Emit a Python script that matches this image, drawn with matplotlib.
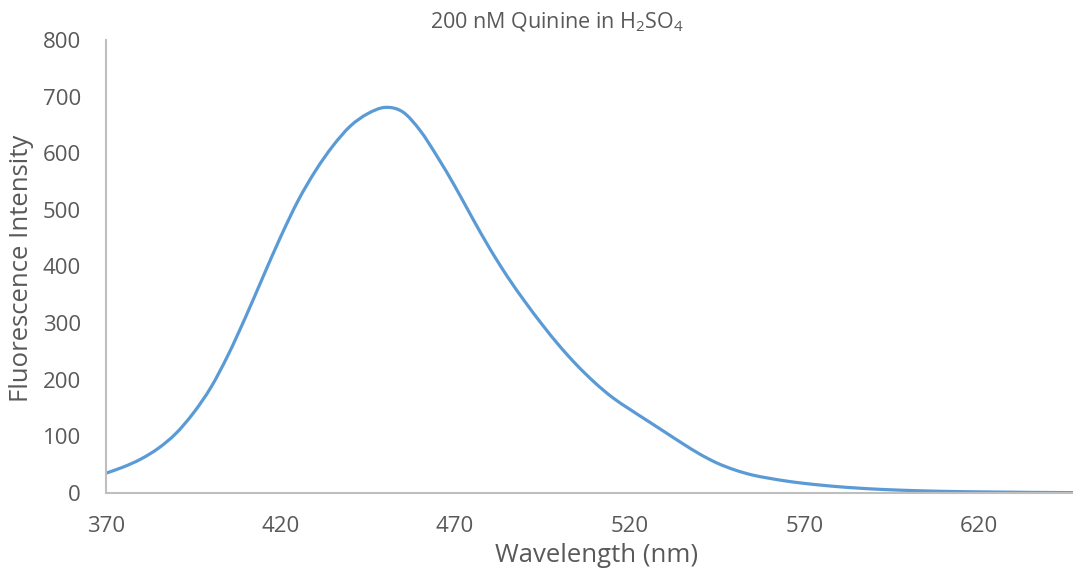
import matplotlib
matplotlib.use("Agg")
import matplotlib.pyplot as plt
from matplotlib.path import Path
from matplotlib.patches import PathPatch

# Data
wavelength = [370, 375, 380, 385, 390, 395, 400, 405, 410, 415, 420, 425, 430, 435,
              440, 445, 450, 455, 460, 465, 470, 475, 480, 485, 490, 495, 500, 505,
              510, 515, 520, 525, 530, 535, 540, 545, 550, 555, 560, 565, 570, 575,
              580, 585, 590, 595, 600, 605, 610, 615, 620, 625, 630, 635, 640, 645, 650]
intensity = [35, 46, 60, 79, 105, 141, 186, 244, 311, 382, 452, 516, 569, 613,
             648, 670, 681, 673, 640, 593, 541, 485, 431, 382, 338, 297, 259, 225,
             195, 169, 148, 128, 108, 88, 69, 53, 41, 32, 26, 21, 17, 13.8,
             11, 8.8, 7, 5.6, 4.5, 3.6, 2.9, 2.4, 2.0, 1.7, 1.4, 1.1, 0.9, 0.7, 0.6]
x_ticks = [370, 420, 470, 520, 570, 620]
y_ticks = [0, 100, 200, 300, 400, 500, 600, 700, 800]

title_text = "200 nM Quinine in H$\\mathregular{_2}$SO$\\mathregular{_4}$"
x_label = "Wavelength (nm)"
y_label = "Fluorescence Intensity"

plt.rcParams['font.family'] = ['Open Sans', 'DejaVu Sans']
text_color = '#595959'
spine_color = '#BFBFBF'
line_color = '#5B9BD5'

W, H = 1073, 573
fig = plt.figure(figsize=(W / 100, H / 100), dpi=100)
ax = fig.add_axes([106 / W, 1 - 493 / H, (W - 106) / W, (493 - 40) / H])


def smooth_path(xs, ys):
    """Excel-style smoothed line: cubic Bezier segments through the data points."""
    n = len(xs)
    verts = [(xs[0], ys[0])]
    codes = [Path.MOVETO]
    for i in range(n - 1):
        x0, y0 = (xs[i - 1], ys[i - 1]) if i > 0 else (xs[i], ys[i])
        x1, y1 = xs[i], ys[i]
        x2, y2 = xs[i + 1], ys[i + 1]
        x3, y3 = (xs[i + 2], ys[i + 2]) if i + 2 < n else (x2, y2)
        c1 = (x1 + (x2 - x0) / 6.0, y1 + (y2 - y0) / 6.0)
        c2 = (x2 - (x3 - x1) / 6.0, y2 - (y3 - y1) / 6.0)
        verts += [c1, c2, (x2, y2)]
        codes += [Path.CURVE4] * 3
    return Path(verts, codes)


ax.plot(wavelength, intensity, color=line_color, lw=0, alpha=0)
ax.add_patch(PathPatch(smooth_path(wavelength, intensity), facecolor='none',
                       edgecolor=line_color, lw=2.3, capstyle='round',
                       joinstyle='round'))

ax.set_xlim(370, 647)
ax.set_ylim(0, 800)
ax.set_xticks(x_ticks)
ax.set_yticks(y_ticks)
ax.tick_params(axis='both', length=0, labelsize=16, labelcolor=text_color)
ax.tick_params(axis='x', pad=16.5)
ax.tick_params(axis='y', pad=18)

for s in ['top', 'right']:
    ax.spines[s].set_visible(False)
for s in ['left', 'bottom']:
    ax.spines[s].set_color(spine_color)
    ax.spines[s].set_linewidth(1.5)

fig.text(557 / W, 1 - 22 / H, title_text, ha='center', va='center',
         fontsize=15.5, color=text_color)
fig.text(597 / W, 1 - 556 / H, x_label, ha='center', va='center',
         fontsize=18.5, color=text_color)
fig.text(22 / W, 1 - 268 / H, y_label, ha='center', va='center', rotation=90,
         fontsize=18.5, color=text_color)

fig.savefig("out.png", dpi=100)
